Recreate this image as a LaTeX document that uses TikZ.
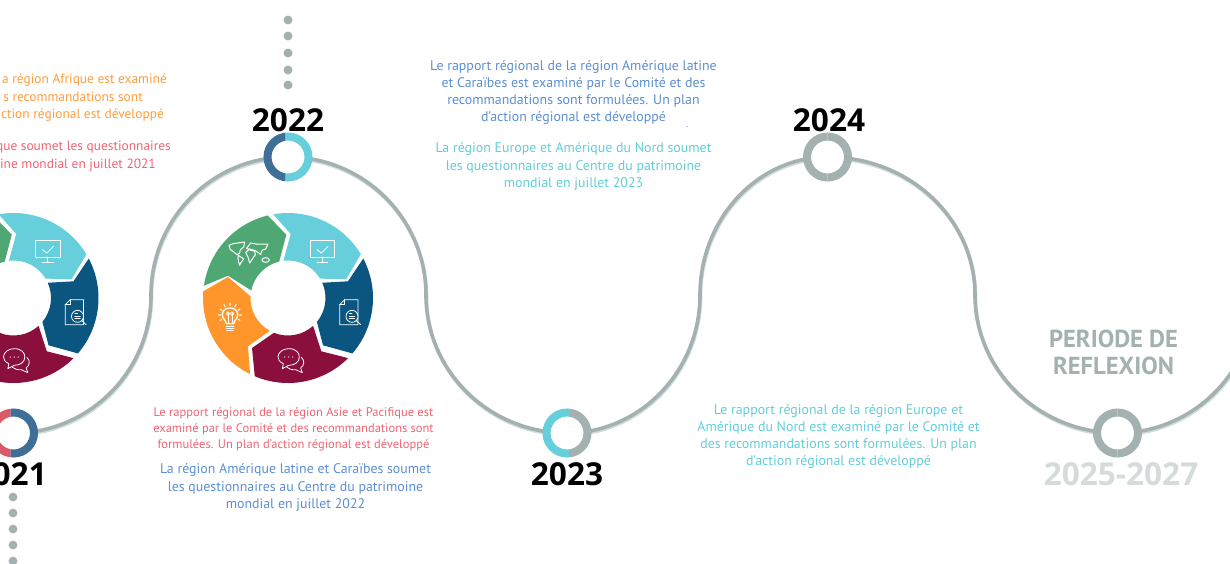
\documentclass[tikz,border=0pt]{standalone}
\usepackage{fontspec}
\setmainfont{PT Sans}
\newfontfamily\yearfont{Open Sans}
\usetikzlibrary{backgrounds}
\definecolor{tlgray}{HTML}{A3B1B1}
\definecolor{tlshadow}{HTML}{CFDCDC}
\definecolor{cteal}{HTML}{66CFDB}
\definecolor{cblue}{HTML}{0B5680}
\definecolor{cmaroon}{HTML}{8B0F3C}
\definecolor{corange}{HTML}{FF962B}
\definecolor{cgreen}{HTML}{4FA873}
\definecolor{rblue}{HTML}{3F6E97}
\definecolor{rred}{HTML}{DB5A6A}
\definecolor{tblue}{HTML}{5B8FD0}
\definecolor{tred}{HTML}{EE6472}
\definecolor{torange}{HTML}{FF9C3A}
\definecolor{tteal}{HTML}{62CDD9}
\definecolor{tlight}{HTML}{D5DBDB}
\tikzset{
  x=1pt,y=1pt,
  ringnode/.style={circle,inner sep=0pt,minimum size=38pt,fill=white},
  track/.style={draw=tlgray,line width=3.6pt},
  trackshade/.style={draw=tlshadow,line width=3.6pt,transform canvas={xshift=0.5pt,yshift=-1.6pt}},
  dotmark/.style={fill=tlgray},
  para/.style={align=center,inner sep=0pt,font=\fontsize{13.9}{17.2}\selectfont},
  leftpara/.style={inner sep=0pt,anchor=north east,font=\fontsize{13.4}{17.2}\selectfont},
  yearlabel/.style={inner sep=0pt,font=\yearfont\bfseries\fontsize{31.6}{31.6}\selectfont},
  iconline/.style={draw=white,line width=0.8pt,line join=round,line cap=round},
}
% ring: x, y(negative), split x offset, left colour, right colour
\newcommand{\ringband}[5]{%
  \begin{scope}
    \clip (#1-30,#2-30) rectangle (#1+#3,#2+30);
    \draw[#4,line width=8pt] (#1,#2) circle[radius=20.5];
  \end{scope}
  \begin{scope}
    \clip (#1+#3,#2-30) rectangle (#1+30,#2+30);
    \draw[#5,line width=8pt] (#1,#2) circle[radius=20.5];
  \end{scope}}
% icons are written in a local frame where the centre is (295,295), y downward, 3 units per pixel
\newcommand{\donut}[2]{%
\begin{scope}[shift={(#1,#2)}]
  \fill[cteal] (100:85) arc[start angle=100,end angle=31,radius=85] -- (58.3,19) -- (31:37.5) arc[start angle=31,end angle=97,radius=37.5] -- (2.7,64) -- cycle;
  \fill[cblue] (27.7:85) arc[start angle=27.7,end angle=-40.7,radius=85] -- (35,-47.3) -- (-39.5:37.5) arc[start angle=-39.5,end angle=24,radius=37.5] -- (60,16.7) -- cycle;
  \fill[cmaroon] (-45:85) arc[start angle=-45,end angle=-113,radius=85] -- (-36,-50) -- (-112:37.5) arc[start angle=-112,end angle=-48,radius=37.5] -- (33.3,-53.3) -- cycle;
  \fill[corange] (-116.5:85) arc[start angle=-116.5,end angle=-184.5,radius=85] -- (-60,21) -- (177.5:37.5) arc[start angle=177.5,end angle=241,radius=37.5] -- (-40,-48.3) -- cycle;
  \fill[cgreen] (171.7:85) arc[start angle=171.7,end angle=103.8,radius=85] -- (-1.7,63.3) -- (103.5:37.5) arc[start angle=103.5,end angle=168.4,radius=37.5] -- (-60,22.3) -- cycle;
  \begin{scope}[x=0.3333pt,y=-0.3333pt,shift={(-295,-295)}]
    % monitor
    \draw[iconline] (362,122) rectangle (435,172);
    \draw[iconline] (398,172) -- (398,186) (382,187) -- (415,187);
    \draw[iconline] (382,150) -- (395,160) -- (415,140);
    % document and lens
    \draw[iconline] (450,315) -- (465,300) -- (505,300) -- (505,375) -- (450,375) -- cycle;
    \draw[iconline] (450,315) -- (465,315) -- (465,300);
    \draw[iconline,fill=cblue] (487,350) circle[radius=18];
    \draw[iconline] (500,363) -- (513,375);
    \draw[iconline] (479,342) -- (487,342) (479,350) -- (495,350) (479,357) -- (495,357);
    % speech bubbles
    \draw[iconline] (335,473) .. controls (346,482) and (344,498) .. (333,505) -- (338,519) -- (318,510) .. controls (306,511) and (298,508) .. (292,503);
    \draw[iconline,fill=cmaroon] (297,447) .. controls (320,447) and (329,460) .. (329,472) .. controls (329,488) and (314,497) .. (297,497) -- (278,507) -- (281,492) .. controls (270,487) and (265,480) .. (265,472) .. controls (265,458) and (280,447) .. (297,447) -- cycle;
    \fill[white] (285,472) circle[radius=2] (297,472) circle[radius=2] (309,472) circle[radius=2];
    % bulb
    \draw[iconline,line width=1.3pt] (110,372) .. controls (108,360) and (98,358) .. (98,345) .. controls (98,332) and (108,325) .. (121,325) .. controls (134,325) and (144,332) .. (144,345) .. controls (144,358) and (134,360) .. (132,372) -- cycle;
    \draw[iconline] (115,372) -- (115,342) (127,372) -- (127,342);
    \draw[iconline] (115,342) circle[radius=5] (127,342) circle[radius=5];
    \draw[iconline,line width=1.3pt] (110,381) -- (132,381) (110,387) -- (132,387) (112,393) -- (130,393);
    \draw[iconline,line width=1.1pt] (121,310) -- (121,318) (103,315) -- (107,322) (139,315) -- (135,322) (91,328) -- (97,332) (151,328) -- (145,332) (86,346) -- (93,346) (156,346) -- (149,346) (91,362) -- (96,359) (151,362) -- (146,359);
    % world map
    \draw[iconline,line width=1pt] (118,137) -- (130,132) -- (165,127) -- (162,142) -- (152,150) -- (150,160) -- (142,165) -- (130,155) -- (122,150) -- cycle;
    \draw[iconline,line width=1pt] (145,166) -- (162,178) -- (153,190) -- (150,197) -- (146,185) -- cycle;
    \draw[iconline,line width=1pt] (170,147) -- (183,130) -- (200,133) -- (235,133) -- (228,148) -- (217,152) -- (213,165) -- (205,158) -- (195,152) -- (180,148) -- cycle;
    \draw[iconline,line width=1pt] (168,158) -- (178,150) -- (195,155) -- (197,165) -- (188,178) -- (180,190) -- (175,172) -- cycle;
    \draw[iconline,line width=1pt] (228,181) ellipse[x radius=11,y radius=7];
  \end{scope}
\end{scope}}
\begin{document}
\begin{tikzpicture}
\useasboundingbox (0,0) rectangle (1230,-563);
\clip (0,0) rectangle (1230,-563);

% timeline stations
\node[ringnode] (r21) at (13.5,-433) {};
\node[ringnode] (r22) at (288,-157) {};
\node[ringnode] (r23) at (567,-433) {};
\node[ringnode] (r24) at (827.5,-157) {};
\node[ringnode] (r25) at (1117.5,-433) {};
\coordinate (m1) at (151,-295);
\coordinate (m2) at (426,-295);
\coordinate (m3) at (700,-295);
\coordinate (m4) at (975,-295);
\coordinate (tlend) at (1255,-295);

\begin{scope}[on background layer]
  \foreach \sty in {trackshade,track}{
    \path[\sty] (r21.center) .. controls +(76,0) and +(0,-76) .. (m1);
    \path[\sty] (m1) .. controls +(0,76) and +(-76,0) .. (r22.center);
    \path[\sty] (r22.center) .. controls +(76,0) and +(0,76) .. (m2);
    \path[\sty] (m2) .. controls +(0,-76) and +(-78,0) .. (r23.center);
    \path[\sty] (r23.center) .. controls +(73,0) and +(0,-76) .. (m3);
    \path[\sty] (m3) .. controls +(0,76) and +(-70,0) .. (r24.center);
    \path[\sty] (r24.center) .. controls +(82,0) and +(0,76) .. (m4);
    \path[\sty] (m4) .. controls +(0,-76) and +(-78,0) .. (r25.center);
    \path[\sty] (r25.center) .. controls +(76,0) and +(0,-76) .. (tlend);
  }
\end{scope}

\ringband{13.5}{-433}{-3}{rred}{rblue}
\ringband{288}{-157}{-2.5}{rblue}{cteal}
\ringband{567}{-433}{2}{cteal}{tlgray}
\ringband{827.5}{-157}{0}{tlgray}{tlgray}
\ringband{1117.5}{-433}{0}{tlgray}{tlgray}

% donuts
\donut{13.5}{-298}
\donut{288}{-298}

% dotted leaders
\foreach \yy in {20,36,53,70,85} \fill[dotmark] (288,-\yy) circle[radius=4.5];
\foreach \yy in {497,513,529,545,561} \fill[dotmark] (13,-\yy) circle[radius=4.4];

% years
\node[yearlabel,anchor=base east] (y21) at (47,-485) {021};
\node[yearlabel,anchor=base] (y22) at (288,-131) {2022};
\node[yearlabel,anchor=base] (y23) at (567,-485) {2023};
\node[yearlabel,anchor=base] (y24) at (829,-131) {2024};
\node[yearlabel,anchor=base,text=tlight] (y25) at (1121,-485) {2025-2027};
\node[align=center,inner sep=0pt,text=tlgray,font=\bfseries\fontsize{24.6}{27}\selectfont] (pr) at (1113.5,-352) {PERIODE DE\\REFLEXION};

% texts
\node[leftpara,text=torange] (t1) at (167,-74) {a région Afrique est examiné};
\node[leftpara,text=torange] (t1b) at (143,-91.5) {s recommandations sont};
\node[leftpara,text=torange] (t1c) at (164,-108.5) {ction régional est développé};
\node[leftpara,text=tred] (t2) at (171,-140.5) {que soumet les questionnaires};
\node[leftpara,text=tred] (t2b) at (156,-158.5) {oine mondial en juillet 2021};

\node[para,text=tblue,anchor=center] (t3) at (573.5,-92.5) {Le rapport régional de la région Amérique latine\\et Caraïbes est examiné par le Comité et des\\recommandations sont formulées. Un plan\\d’action régional est développé};
\node[inner sep=0pt,text=tblue,font=\fontsize{8}{8}\selectfont] (t3d) at (687,-128) {-};
\node[para,text=tteal,anchor=center,font=\fontsize{13.9}{17.6}\selectfont] (t4) at (573.5,-166.5) {La région Europe et Amérique du Nord soumet\\les questionnaires au Centre du patrimoine\\mondial en juillet 2023};
\node[para,text=tred,anchor=center,font=\fontsize{12.5}{16}\selectfont] (t5) at (293.5,-429) {Le rapport régional de la région Asie et Pacifique est\\examiné par le Comité et des recommandations sont\\formulées. Un plan d’action régional est développé};
\node[para,text=tblue,anchor=center,font=\fontsize{13.9}{17.6}\selectfont] (t6) at (295.5,-487.5) {La région Amérique latine et Caraïbes soumet\\les questionnaires au Centre du patrimoine\\mondial en juillet 2022};
\node[para,text=tteal,anchor=center] (t7) at (838.5,-436.5) {Le rapport régional de la région Europe et\\Amérique du Nord est examiné par le Comité et\\des recommandations sont formulées. Un plan\\d’action régional est développé};
\end{tikzpicture}
\end{document}
